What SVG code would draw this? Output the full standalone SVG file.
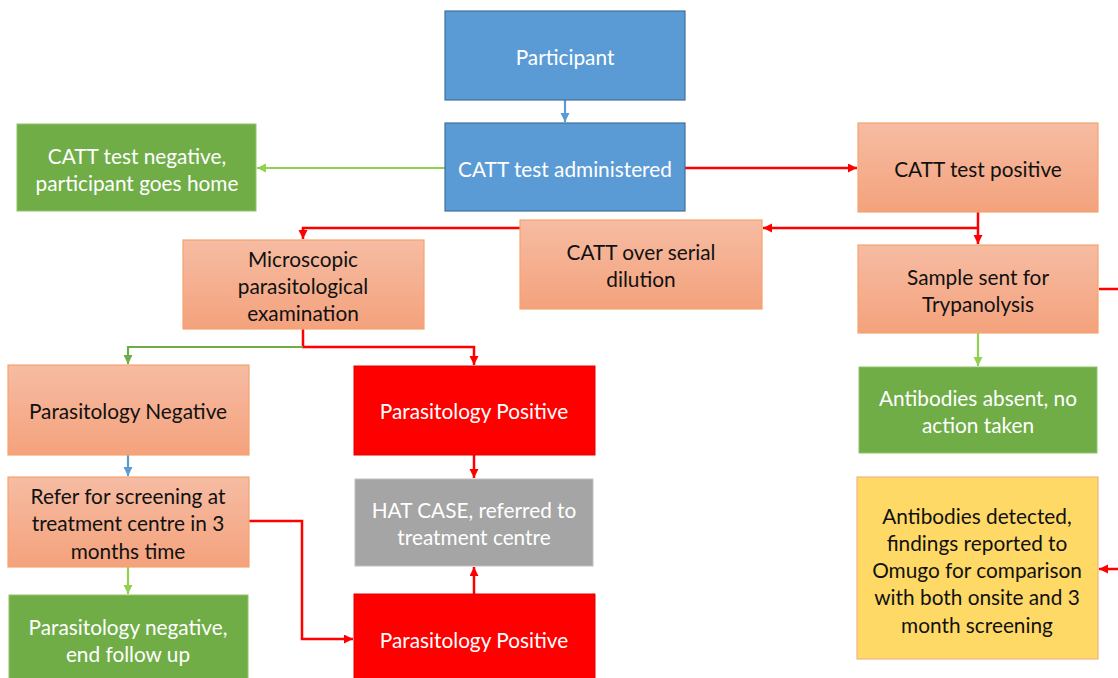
<svg xmlns="http://www.w3.org/2000/svg" width="1118" height="678" viewBox="0 0 1118 678">
<style>
  text{font-family:Lato,"Liberation Sans",sans-serif;font-size:20.8px;text-anchor:middle;dominant-baseline:central}
  .w{fill:#ffffff}
  .k{fill:#111111}
  .blue{fill:#5B9BD5;stroke:#41719C;stroke-width:1.2}
  .green{fill:#70AD47;stroke:#8FC46A;stroke-width:1}
  .salmon{fill:url(#sal);stroke:#F4A46E;stroke-width:1.2}
  .red{fill:#FF0000;stroke:#E60000;stroke-width:1}
  .gray{fill:#A5A5A5;stroke:#C0C0C0;stroke-width:1}
  .yellow{fill:#FFD966;stroke:#F4B183;stroke-width:1.2}
  .cr{fill:none;stroke:#FF0000;stroke-width:2.5}
  .cg{fill:none;stroke:#92D050;stroke-width:2.2}
  .cg2{fill:none;stroke:#70AD47;stroke-width:2.2}
  .cb{fill:none;stroke:#5B9BD5;stroke-width:2.2}
</style>
<defs>
  <linearGradient id="sal" x1="0" y1="0" x2="0" y2="1">
    <stop offset="0" stop-color="#F6BCA3"/>
    <stop offset="1" stop-color="#F4A27C"/>
  </linearGradient>
  <marker id="ar" markerUnits="userSpaceOnUse" markerWidth="10" markerHeight="10" refX="9" refY="4.5" orient="auto"><path d="M0,0 L9,4.5 L0,9 z" fill="#FF0000"/></marker>
  <marker id="ag" markerUnits="userSpaceOnUse" markerWidth="10" markerHeight="10" refX="9" refY="4.5" orient="auto"><path d="M0,0 L9,4.5 L0,9 z" fill="#92D050"/></marker>
  <marker id="ag2" markerUnits="userSpaceOnUse" markerWidth="10" markerHeight="10" refX="9" refY="4.5" orient="auto"><path d="M0,0 L9,4.5 L0,9 z" fill="#70AD47"/></marker>
  <marker id="ab" markerUnits="userSpaceOnUse" markerWidth="10" markerHeight="10" refX="9" refY="4.5" orient="auto"><path d="M0,0 L9,4.5 L0,9 z" fill="#5B9BD5"/></marker>
</defs>
<rect width="1118" height="678" fill="#ffffff"/>

<g id="connectors">
  <path class="cb" d="M565,100 V122" marker-end="url(#ab)"/>
  <path class="cg" d="M445,168 H257" marker-end="url(#ag)"/>
  <path class="cr" d="M685,168 H857" marker-end="url(#ar)"/>
  <path class="cr" d="M978,212 V244" marker-end="url(#ar)"/>
  <path class="cr" d="M978,228 H763" marker-end="url(#ar)"/>
  <path class="cr" d="M520,228 H303 V239" marker-end="url(#ar)"/>
  <path class="cr" d="M303,329 V347 H474 V365" marker-end="url(#ar)"/>
  <path class="cg2" d="M303,347 H128 V364" marker-end="url(#ag2)"/>
  <path class="cb" d="M128,455 V476" marker-end="url(#ab)"/>
  <path class="cg" d="M128,567 V594" marker-end="url(#ag)"/>
  <path class="cr" d="M249,521 H302 V639 H353" marker-end="url(#ar)"/>
  <path class="cr" d="M474,455 V478" marker-end="url(#ar)"/>
  <path class="cr" d="M474,594 V567" marker-end="url(#ar)"/>
  <path class="cg" d="M978,333 V366" marker-end="url(#ag)"/>
  <path class="cr" d="M1099,289 H1120"/>
  <path class="cr" d="M1120,569 H1099" marker-end="url(#ar)"/>
</g>

<g id="participant"><rect class="blue" x="445" y="11" width="240" height="89"/><text class="w" x="565" y="56">Participant</text></g>
<g id="catt-administered"><rect class="blue" x="445" y="123" width="240" height="88"/><text class="w" x="565" y="168">CATT test administered</text></g>
<g id="catt-negative"><rect class="green" x="17" y="124" width="239" height="87"/><text class="w" x="137" y="155">CATT test negative,</text><text class="w" x="137" y="182">participant goes home</text></g>
<g id="catt-positive"><rect class="salmon" x="858" y="123" width="240" height="89"/><text class="k" x="978" y="168">CATT test positive</text></g>
<g id="catt-serial"><rect class="salmon" x="520" y="220" width="242" height="89"/><text class="k" x="641" y="251">CATT over serial</text><text class="k" x="641" y="278">dilution</text></g>
<g id="microscopic"><rect class="salmon" x="183" y="240" width="241" height="89"/><text class="k" x="303" y="258">Microscopic</text><text class="k" x="303" y="285">parasitological</text><text class="k" x="303" y="312">examination</text></g>
<g id="sample-sent"><rect class="salmon" x="858" y="245" width="240" height="88"/><text class="k" x="978" y="276">Sample sent for</text><text class="k" x="978" y="303">Trypanolysis</text></g>
<g id="antibodies-absent"><rect class="green" x="859" y="367" width="238" height="86"/><text class="w" x="978" y="397">Antibodies absent, no</text><text class="w" x="978" y="424">action taken</text></g>
<g id="antibodies-detected"><rect class="yellow" x="857" y="477" width="241" height="182"/><text class="k" x="977" y="515">Antibodies detected,</text><text class="k" x="977" y="542">findings reported to</text><text class="k" x="977" y="569">Omugo for comparison</text><text class="k" x="977" y="596">with both onsite and 3</text><text class="k" x="977" y="624">month screening</text></g>
<g id="parasitology-negative"><rect class="salmon" x="8" y="365" width="241" height="90"/><text class="k" x="128" y="410">Parasitology Negative</text></g>
<g id="refer"><rect class="salmon" x="8" y="477" width="241" height="90"/><text class="k" x="128" y="495">Refer for screening at</text><text class="k" x="128" y="522">treatment centre in 3</text><text class="k" x="128" y="550">months time</text></g>
<g id="parasitology-negative-end"><rect class="green" x="9" y="595" width="239" height="90"/><text class="w" x="128" y="626">Parasitology negative,</text><text class="w" x="128" y="653">end follow up</text></g>
<g id="parasitology-positive-1"><rect class="red" x="354" y="366" width="241" height="89"/><text class="w" x="474" y="410">Parasitology Positive</text></g>
<g id="hat-case"><rect class="gray" x="355" y="479" width="238" height="87"/><text class="w" x="474" y="509">HAT CASE, referred to</text><text class="w" x="474" y="536">treatment centre</text></g>
<g id="parasitology-positive-2"><rect class="red" x="354" y="594" width="241" height="90"/><text class="w" x="474" y="639">Parasitology Positive</text></g>
</svg>
